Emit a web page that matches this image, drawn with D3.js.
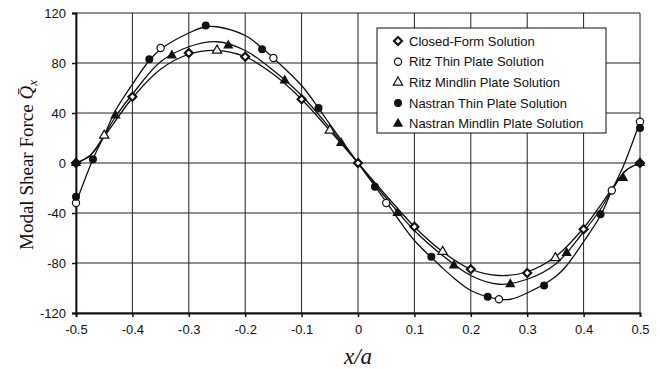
<!DOCTYPE html>
<html>
<head>
<meta charset="utf-8">
<script src="https://cdn.jsdelivr.net/npm/d3@7"></script>
<style>
  html, body { margin: 0; padding: 0; background: #fff; }
  svg { display: block; }
</style>
</head>
<body>
<svg id="chart" width="660" height="369"></svg>
<script>
// ---- tick labels ----
const xTicks = [-0.5, -0.4, -0.3, -0.2, -0.1, 0, 0.1, 0.2, 0.3, 0.4, 0.5];
const xTickLabels = ["-0.5", "-0.4", "-0.3", "-0.2", "-0.1", "0", "0.1", "0.2", "0.3", "0.4", "0.5"];
const yTicks = [-120, -80, -40, 0, 40, 80, 120];
const yTickLabels = ["-120", "-80", "-40", "0", "40", "80", "120"];

// ---- series (markers) ----
const seriesNames = [
  "Closed-Form Solution",
  "Ritz Thin Plate Solution",
  "Ritz Mindlin Plate Solution",
  "Nastran Thin Plate Solution",
  "Nastran Mindlin Plate Solution"
];
const closedFormX = [-0.5, -0.4, -0.3, -0.2, -0.1, 0, 0.1, 0.2, 0.3, 0.4, 0.5];
const closedFormY = [0, 53, 88, 85, 51, 0, -51, -85, -88, -53, 0];
const ritzThinX = [-0.5, -0.35, -0.15, 0.05, 0.25, 0.45, 0.5];
const ritzThinY = [-32, 92, 84, -32, -109, -22, 33];
const ritzMindlinX = [-0.45, -0.25, -0.05, 0.15, 0.35];
const ritzMindlinY = [22, 90, 26, -71, -76];
const nastranThinX = [-0.5, -0.47, -0.37, -0.27, -0.17, -0.07, 0.03, 0.13, 0.23, 0.33, 0.43, 0.5];
const nastranThinY = [-27, 3, 83, 110, 91, 44, -19, -75, -107, -98, -41, 28];
const nastranMindlinX = [-0.5, -0.43, -0.33, -0.23, -0.13, -0.03, 0.07, 0.17, 0.27, 0.37, 0.47, 0.5];
const nastranMindlinY = [0, 38, 86, 94, 66, 16, -40, -82, -97, -72, -12, 0];

// ---- smooth curves drawn through the reference ----
const curveThinX = [-0.5, -0.47, -0.45, -0.43, -0.4, -0.37, -0.35, -0.3, -0.27, -0.25, -0.2, -0.17, -0.15, -0.1, -0.07, -0.05, 0,
                    0.05, 0.07, 0.1, 0.15, 0.17, 0.2, 0.25, 0.27, 0.3, 0.35, 0.37, 0.4, 0.43, 0.45, 0.47, 0.5];
const curveThinY = [-32, 3, 22, 42, 63, 82, 91, 104, 109, 109, 102, 92, 84, 62, 44, 31, 0,
                    -31, -44, -62, -84, -92, -102, -109, -109, -104, -91, -82, -63, -42, -22, -3, 33];
const curveMidX = [-0.5, -0.475, -0.45, -0.43, -0.4, -0.35, -0.3, -0.25, -0.2, -0.15, -0.1, -0.05, 0,
                   0.05, 0.1, 0.15, 0.2, 0.25, 0.3, 0.35, 0.4, 0.43, 0.45, 0.475, 0.5];
const curveMidY = [0, 6, 22, 37, 55, 81, 93, 97, 90, 74, 54, 28, 0,
                   -28, -54, -74, -90, -97, -93, -81, -55, -37, -22, -6, 0];
const curveLowX = [-0.5, -0.475, -0.45, -0.4, -0.35, -0.3, -0.25, -0.2, -0.15, -0.1, -0.05, 0,
                   0.05, 0.1, 0.15, 0.2, 0.25, 0.3, 0.35, 0.4, 0.45, 0.475, 0.5];
const curveLowY = [0, 6, 21, 52, 75, 87, 90, 85, 71, 51, 26, 0,
                   -26, -51, -71, -85, -90, -87, -75, -52, -21, -6, 0];

const svg = d3.select("#chart");
const x = d3.scaleLinear().domain([-0.5, 0.5]).range([76, 640]);
const y = d3.scaleLinear().domain([-120, 120]).range([313, 13]);

const ink = "#111";

// grid
const grid = svg.append("g");
grid.selectAll("line.v").data(xTicks).join("line")
  .attr("x1", d => x(d)).attr("x2", d => x(d))
  .attr("y1", y(120)).attr("y2", y(-120))
  .attr("stroke", "#222").attr("stroke-width", 1);
grid.selectAll("line.h").data(yTicks).join("line")
  .attr("x1", x(-0.5)).attr("x2", x(0.5))
  .attr("y1", d => y(d)).attr("y2", d => y(d))
  .attr("stroke", "#222").attr("stroke-width", 1);

// axes
const xAxis = d3.axisBottom(x).tickValues(xTicks).tickFormat((d, i) => xTickLabels[i]).tickSize(4).tickPadding(8);
const yAxis = d3.axisLeft(y).tickValues(yTicks).tickFormat((d, i) => yTickLabels[i]).tickSize(4).tickPadding(6);
const gx = svg.append("g").attr("transform", `translate(0,${y(-120)})`).call(xAxis);
const gy = svg.append("g").attr("transform", `translate(${x(-0.5)},0)`).call(yAxis);
[gx, gy].forEach(g => {
  g.select(".domain").attr("stroke", ink).attr("stroke-width", 1.8);
  g.selectAll(".tick line").attr("stroke", ink).attr("stroke-width", 1.5);
  g.selectAll(".tick text").attr("fill", ink)
    .style("font-family", "'Liberation Sans', Arial, sans-serif")
    .style("font-size", "13px");
});

// curves
const line = d3.line().x(d => x(d[0])).y(d => y(d[1])).curve(d3.curveCatmullRom.alpha(0.5));
const curves = [
  d3.zip(curveThinX, curveThinY),
  d3.zip(curveMidX, curveMidY),
  d3.zip(curveLowX, curveLowY)
];
svg.append("g").selectAll("path").data(curves).join("path")
  .attr("d", line).attr("fill", "none").attr("stroke", ink).attr("stroke-width", 1.3);

// markers
function drawMarker(g, type, px, py) {
  if (type === 0) {
    g.append("path").attr("d", d3.symbol(d3.symbolDiamond2, 40)())
      .attr("transform", `translate(${px},${py})`)
      .attr("fill", "#fff").attr("stroke", ink).attr("stroke-width", 2.2);
  } else if (type === 1) {
    g.append("circle").attr("cx", px).attr("cy", py).attr("r", 3.6)
      .attr("fill", "#fff").attr("stroke", ink).attr("stroke-width", 1.2);
  } else if (type === 2) {
    g.append("path").attr("d", d3.symbol(d3.symbolTriangle, 38)())
      .attr("transform", `translate(${px},${py})`)
      .attr("fill", "#fff").attr("stroke", ink).attr("stroke-width", 1.2);
  } else if (type === 3) {
    g.append("circle").attr("cx", px).attr("cy", py).attr("r", 4)
      .attr("fill", ink);
  } else {
    g.append("path").attr("d", d3.symbol(d3.symbolTriangle, 46)())
      .attr("transform", `translate(${px},${py})`)
      .attr("fill", ink);
  }
}
const seriesData = [
  [closedFormX, closedFormY],
  [ritzThinX, ritzThinY],
  [ritzMindlinX, ritzMindlinY],
  [nastranThinX, nastranThinY],
  [nastranMindlinX, nastranMindlinY]
];
const mg = svg.append("g");
seriesData.forEach((s, k) => {
  s[0].forEach((xv, i) => drawMarker(mg, k, x(xv), y(s[1][i])));
});

// legend
const lg = svg.append("g");
lg.append("rect").attr("x", 377).attr("y", 28).attr("width", 229).attr("height", 105)
  .attr("fill", "#fff").attr("stroke", ink).attr("stroke-width", 1);
seriesNames.forEach((name, k) => {
  const cy = 41 + k * 20.7;
  drawMarker(lg, k, 398, cy);
  lg.append("text").attr("x", 409).attr("y", cy).attr("dy", "0.35em")
    .attr("fill", ink)
    .style("font-family", "'Liberation Sans', Arial, sans-serif")
    .style("font-size", "13px")
    .text(name);
});

// axis titles
const yt = svg.append("text")
  .attr("transform", "translate(33,165) rotate(-90)")
  .attr("text-anchor", "middle")
  .attr("fill", ink)
  .style("font-family", "'Liberation Serif', 'Times New Roman', serif")
  .style("font-size", "19px");
yt.append("tspan").text("Modal Shear Force ");
yt.append("tspan").style("font-style", "italic").text("Q\u0304");
yt.append("tspan").style("font-style", "italic").style("font-size", "13px").attr("dy", "4").text("x");

svg.append("text")
  .attr("x", 358).attr("y", 364)
  .attr("text-anchor", "middle")
  .attr("fill", ink)
  .style("font-family", "'Liberation Serif', 'Times New Roman', serif")
  .style("font-style", "italic")
  .style("font-size", "23px")
  .text("x/a");
</script>
</body>
</html>
